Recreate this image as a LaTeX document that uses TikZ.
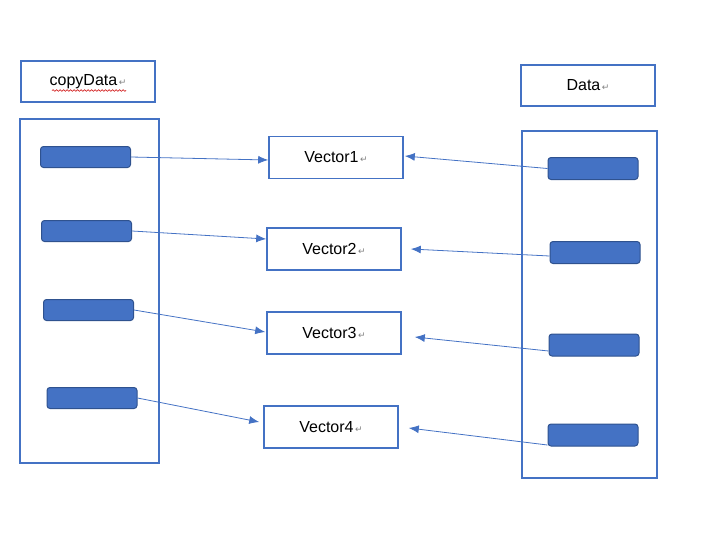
\documentclass[tikz,border=0pt]{standalone}
\usepackage{fontspec}
\setmainfont{Liberation Sans}
\newfontfamily\dejavu{DejaVu Sans}
\usepackage{xcolor}
\usetikzlibrary{positioning}
\usetikzlibrary{calc}
\usetikzlibrary{arrows.meta}
\usetikzlibrary{decorations.pathmorphing}
\definecolor{officeblue}{HTML}{4472C4}
\definecolor{darkblue}{HTML}{2F528F}
\newcommand{\pmark}{{\dejavu\fontsize{9}{9}\selectfont\color{gray}\,↵}}
\tikzset{
	-Latex,
	every node/.style={font=\fontsize{16}{19}\selectfont},
	label/.style={rectangle, draw=officeblue, line width=1.6pt, minimum width=134pt, minimum height=41pt, inner sep=0pt},
	vec/.style={rectangle, draw=officeblue, line width=1.6pt, minimum width=134pt, minimum height=42pt, inner sep=0pt},
	holder/.style={rectangle, draw=officeblue, line width=1.6pt, inner sep=0pt},
	bar/.style={rectangle, rounded corners=3pt, draw=darkblue, fill=officeblue, line width=1pt, minimum width=90pt, minimum height=21pt, inner sep=0pt},
	link/.style={officeblue, line width=0.8pt, -{Latex[length=10pt,width=8pt]}}
}

\begin{document}
\begin{tikzpicture}[x=1pt, y=-1pt]
				\useasboundingbox (0,0) rectangle (702,557);
				% Title
				
				\node[label] (cd) at (88, 81.5) {copyData\pmark};
				\node[label] (d) at (588, 85.5) {Data\pmark};
				\draw[-, red!80!black, line width=0.6pt, decorate, decoration={snake, segment length=3.5pt, amplitude=0.8pt}] ([xshift=-36pt, yshift=-9pt]cd.center) -- ++(74,0);
				
				\node[holder, minimum width=139pt, minimum height=344pt] (cl) at (89.5, 291) {};
				\node[holder, minimum width=135pt, minimum height=347pt] (dr) at (589.5, 304.5) {};
				
				\node[vec] (v1) at (336, 157.5) {Vector1\pmark};
				\node[vec] (v2) at (334, 249) {Vector2\pmark};
				\node[vec] (v3) at (334, 333) {Vector3\pmark};
				\node[vec] (v4) at (331, 427) {Vector4\pmark};
				
				\node[bar] (c1) at (85.5, 157) {};
				\node[bar] (c2) at (86.5, 231) {};
				\node[bar] (c3) at (88.5, 310) {};
				\node[bar] (c4) at (92, 398) {};
				
				\node[bar, minimum height=22pt] (d1) at (593, 168.5) {};
				\node[bar, minimum height=22pt] (d2) at (595, 252.5) {};
				\node[bar, minimum height=22pt] (d3) at (594, 345) {};
				\node[bar, minimum height=22pt] (d4) at (593, 435) {};
				
				\path[link] (c1.east) edge ([yshift=-2.5pt]v1.west);
				\path[link] (c2.east) edge ([yshift=10pt]v2.west);
				\path[link] (c3.east) edge ([yshift=1pt, xshift=-1pt]v3.west);
				\path[link] (c4.east) edge ([xshift=-4pt, yshift=5pt]v4.west);
				
				\path[link] (d1.west) edge ([yshift=1.5pt, xshift=1pt]v1.east);
				\path[link] ([yshift=-3.5pt]d2.west) edge ([xshift=9pt]v2.east);
				\path[link] ([yshift=-6pt]d3.west) edge ([xshift=13pt, yshift=-4pt]v3.east);
				\path[link] ([yshift=-10pt]d4.west) edge ([xshift=10pt, yshift=-1pt]v4.east);
				
			\end{tikzpicture}
\end{document}
